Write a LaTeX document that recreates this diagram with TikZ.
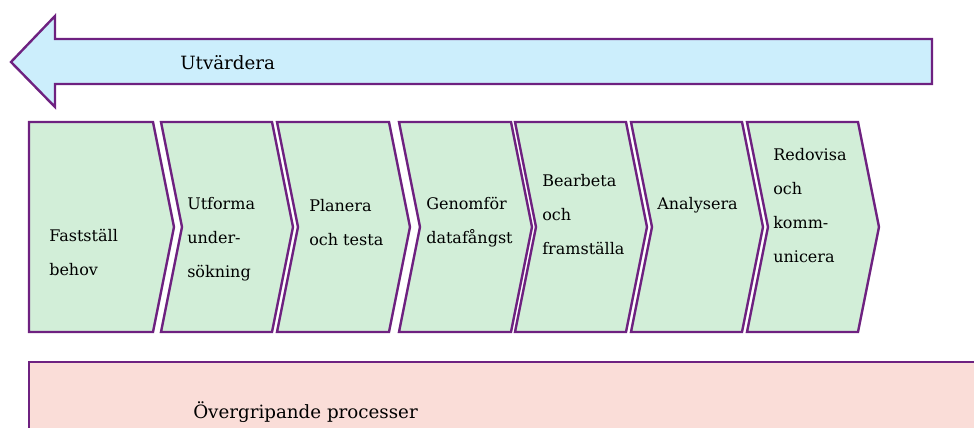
\documentclass[tikz,border=0pt]{standalone}
\usepackage{fontspec}
\setmainfont{DejaVu Serif}
\definecolor{edge}{HTML}{6E2180}
\definecolor{greenfill}{HTML}{D2EED8}
\definecolor{bluefill}{HTML}{CCEEFC}
\definecolor{pinkfill}{HTML}{FADDD8}
\tikzset{
  shapeline/.style={draw=edge, line width=1.8pt, line join=miter},
  chev/.style={shapeline, fill=greenfill},
  lbl/.style={anchor=west, inner sep=0pt, align=left, font=\fontsize{12}{25.5}\selectfont, text=black},
  biglbl/.style={lbl, font=\fontsize{13.7}{16}\selectfont},
}
\begin{document}
\begin{tikzpicture}[x=0.75pt, y=-0.75pt]
\useasboundingbox (0,0) rectangle (974,428);
\clip (0,0) rectangle (974,428);
% arrow
\draw[shapeline, fill=bluefill] (11,62) -- (55,16) -- (55,39) -- (932,39) -- (932,84) -- (55,84) -- (55,107) -- cycle;
\node[biglbl] (utv) at (180,63) {Utvärdera};
% chevrons
\def\d{21}
\draw[chev] (29,122) -- (153,122) -- (153+\d,227) -- (153,332) -- (29,332) -- cycle;
\foreach \l/\r in {161/272, 277/389, 399/511, 515/626, 631/742, 747/858}{
  \draw[chev] (\l,122) -- (\r,122) -- (\r+\d,227) -- (\r,332) -- (\l,332) -- (\l+\d,227) -- cycle;
}
\node[lbl] (c1) at (49,252) {Fastställ\\behov};
\node[lbl] (c2) at (187,239) {Utforma\\under-\\sökning};
\node[lbl] (c3) at (309,223) {Planera\\och testa};
\node[lbl] (c4) at (426,222) {Genomför\\datafångst};
\node[lbl] (c5) at (542,215) {Bearbeta\\och\\framställa};
\node[lbl] (c6) at (657,205) {Analysera};
\node[lbl] (c7) at (773,206) {Redovisa\\och\\komm-\\unicera};
% bottom box
\draw[shapeline, fill=pinkfill] (29,362) rectangle (990,450);
\node[biglbl] (ov) at (193,412) {Övergripande processer};
\end{tikzpicture}
\end{document}
